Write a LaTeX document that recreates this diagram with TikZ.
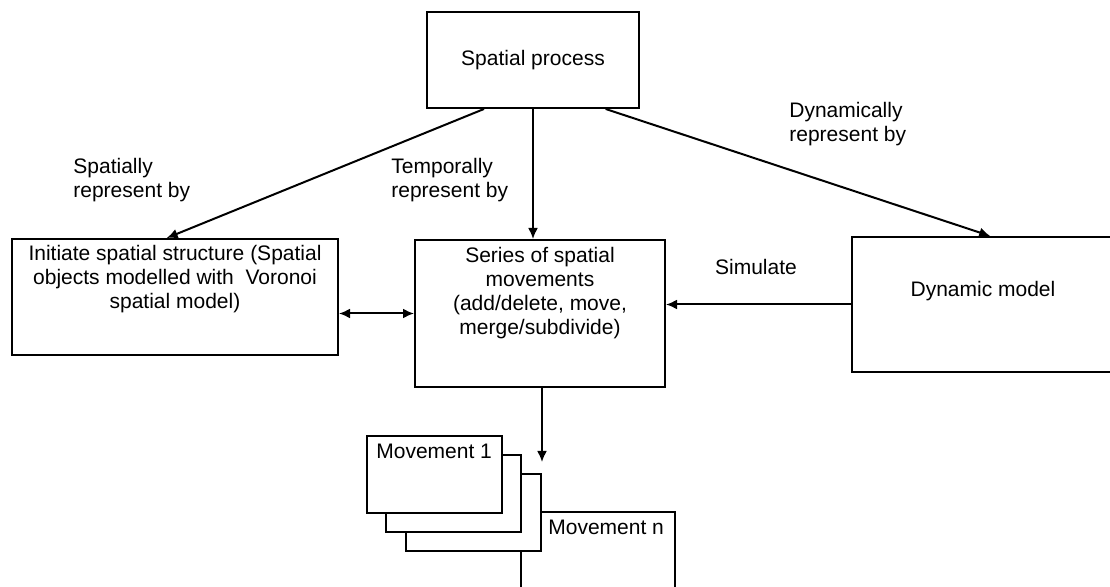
\documentclass[tikz,border=0pt]{standalone}
\usepackage{fontspec}
\setmainfont{Liberation Sans}
\usetikzlibrary{positioning,arrows.meta}

\tikzset{
  box/.style={draw, line width=1pt, fill=white, inner sep=0pt},
  boxtext/.style={align=center, inner sep=0pt},
  lbl/.style={align=left, inner sep=0pt, anchor=west},
  arr/.style={line width=1pt, -{Latex[length=5.5pt,width=5pt]}},
  dblarr/.style={line width=1pt, {Latex[length=5.5pt,width=5pt]}-{Latex[length=5.5pt,width=5pt]}},
}

\begin{document}
\begin{tikzpicture}[x=0.5pt, y=-0.5pt, font=\fontsize{10.5}{11.9}\selectfont]
  \useasboundingbox (0,0) rectangle (1110,587);
  \clip (0,0) rectangle (1110,587);
  % Top box
  \node[box, minimum width=106pt, minimum height=48pt] (proc) at (533,60) {Spatial process};
  % Middle row
  \node[box, minimum width=163pt, minimum height=58pt] (init) at (175,297) {};
  \node[boxtext, below=3.5pt of init.north] (inittext) {Initiate spatial structure (Spatial\\objects modelled with \ Voronoi\\spatial model)};
  \node[box, minimum width=125pt, minimum height=73.5pt] (series) at (540,313.5) {};
  \node[boxtext, below=4pt of series.north] (seriestext) {Series of spatial\\movements\\(add/delete, move,\\merge/subdivide)};
  \node[box, minimum width=131pt, minimum height=67.5pt] (dyn) at (983,304.5) {};
  \node[boxtext] (dyntext) at (983,291) {Dynamic model};
  % Movements (back to front)
  \node[box, minimum width=77pt, minimum height=64pt] (movn) at (598,576) {};
  \node[lbl] (movntext) at (548,527.5) {Movement n};
  \foreach \k in {2,1,0}
    \node[box, minimum width=67.5pt, minimum height=38.5pt] (mov\k) at (434.5+19.3*\k, 474.5+19*\k) {};
  \node[lbl] (mov1text) at (376,451.5) {Movement 1};
  % Labels
  \node[lbl] (spatlbl) at (73,180) {Spatially\\represent by};
  \node[lbl] (templbl) at (391,180) {Temporally\\represent by};
  \node[lbl] (dynlbl) at (789,124) {Dynamically\\represent by};
  \node[boxtext] (simlbl) at (756,266.5) {Simulate};
  % Arrows
  \draw[arr] (proc.225) -- (init.98);
  \draw[arr] (proc.south) -- (proc.south |- series.north);
  \draw[arr] (proc.326) -- (dyn.84);
  \draw[dblarr] (init.east |- series.west) -- (series.west);
  \draw[arr] (dyn.west) -- (dyn.west -| series.east);
  \coordinate (movtop) at (542,462);
  \draw[arr] (series.south -| movtop) -- (movtop);
\end{tikzpicture}
\end{document}
